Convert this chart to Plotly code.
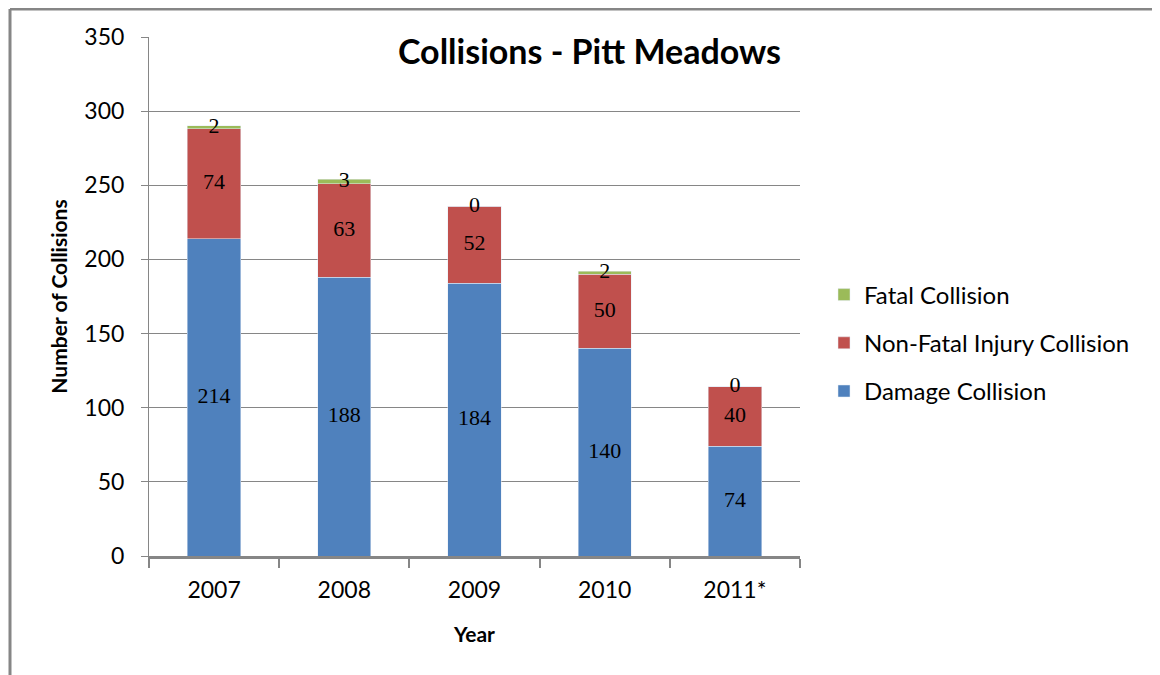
import plotly.graph_objects as go

jahre = ['2007', '2008', '2009', '2010', '2011*']
damage = [214, 188, 184, 140, 74]
injury = [74, 63, 52, 50, 40]
fatal = [2, 3, 0, 2, 0]

blau = '#4F81BD'
rot = '#C0504D'
gruen = '#9BBB59'
grau = '#868686'

fig = go.Figure()

# gestapelte Balken
fig.add_trace(go.Bar(name='Damage Collision', x=jahre, y=damage, marker_color=blau,
                     legendgroup='a', legendrank=3))
fig.add_trace(go.Bar(name='Non-Fatal Injury Collision', x=jahre, y=injury, marker_color=rot,
                     legendgroup='b', legendrank=2))
fig.add_trace(go.Bar(name='Fatal Collision', x=jahre, y=fatal, marker_color=gruen,
                     legendgroup='c', legendrank=1))

# Beschriftungen in der Mitte jedes Segments
pos_damage = [d / 2 for d in damage]
pos_injury = [d + i / 2 for d, i in zip(damage, injury)]
pos_fatal = [d + i + f / 2 for d, i, f in zip(damage, injury, fatal)]

for werte, pos in [(damage, pos_damage), (injury, pos_injury), (fatal, pos_fatal)]:
    fig.add_trace(go.Scatter(
        x=jahre, y=pos, mode='text', text=[str(w) for w in werte],
        textfont=dict(family='Liberation Serif', size=22, color='black'),
        showlegend=False, hoverinfo='skip'
    ))

# Seitenrand des Browsers (body margin) ausgleichen
versatz = 8
breite_fig = 1160 - versatz
hoehe_fig = 675 - versatz

links = 149 - versatz
oben = 37 - versatz
unten = 556 - versatz
rechts = 800 - versatz
breite = rechts - links
hoehe = unten - oben

fig.update_layout(
    width=breite_fig, height=hoehe_fig,
    margin=dict(l=links, r=breite_fig - rechts, t=oben, b=hoehe_fig - unten),
    barmode='stack',
    bargap=0.59,
    plot_bgcolor='white',
    paper_bgcolor='white',
    font=dict(family='Lato', color='black'),
    title=dict(text='<b>Collisions - Pitt Meadows</b>', font=dict(size=34, family='Lato'),
               xref='paper', x=(781 - versatz - links) / breite, xanchor='right',
               yref='container', y=1 - (52 - versatz) / hoehe_fig, yanchor='middle'),
    legend=dict(x=(824 - versatz - links) / breite, xanchor='left',
                y=(unten - (343 - versatz)) / hoehe, yanchor='middle',
                traceorder='grouped', tracegroupgap=14,
                font=dict(size=24, family='Lato')),
    showlegend=True,
)

fig.update_xaxes(
    title=dict(text='<b>Year</b>', font=dict(size=21), standoff=26),
    tickson='boundaries', ticks='outside', ticklen=9, tickcolor=grau, tickwidth=2,
    showline=True, linecolor=grau, linewidth=3,
    tickfont=dict(size=23), ticklabelstandoff=11,
    showgrid=False, automargin=False,
)
fig.update_yaxes(
    title=dict(text='<b>Number of Collisions</b>', font=dict(size=21), standoff=11),
    range=[0, 350], dtick=50,
    ticks='outside', ticklen=7, tickcolor=grau, tickwidth=1,
    showline=True, linecolor=grau, linewidth=1,
    showgrid=True, gridcolor=grau, gridwidth=1,
    tickfont=dict(size=23), ticklabelstandoff=12,
    zeroline=False, automargin=False,
)

# Rahmen links und oben
rand_x = (10 - versatz - links) / breite
rand_y = (unten - 1) / hoehe
fig.add_shape(type='line', xref='paper', yref='paper',
              x0=rand_x, x1=rand_x, y0=rand_y, y1=(unten - hoehe_fig - 5) / hoehe,
              line=dict(color=grau, width=3))
fig.add_shape(type='line', xref='paper', yref='paper',
              x0=rand_x, x1=(breite_fig + 5 - links) / breite, y0=rand_y, y1=rand_y,
              line=dict(color=grau, width=3))

fig.write_html('out.html')
